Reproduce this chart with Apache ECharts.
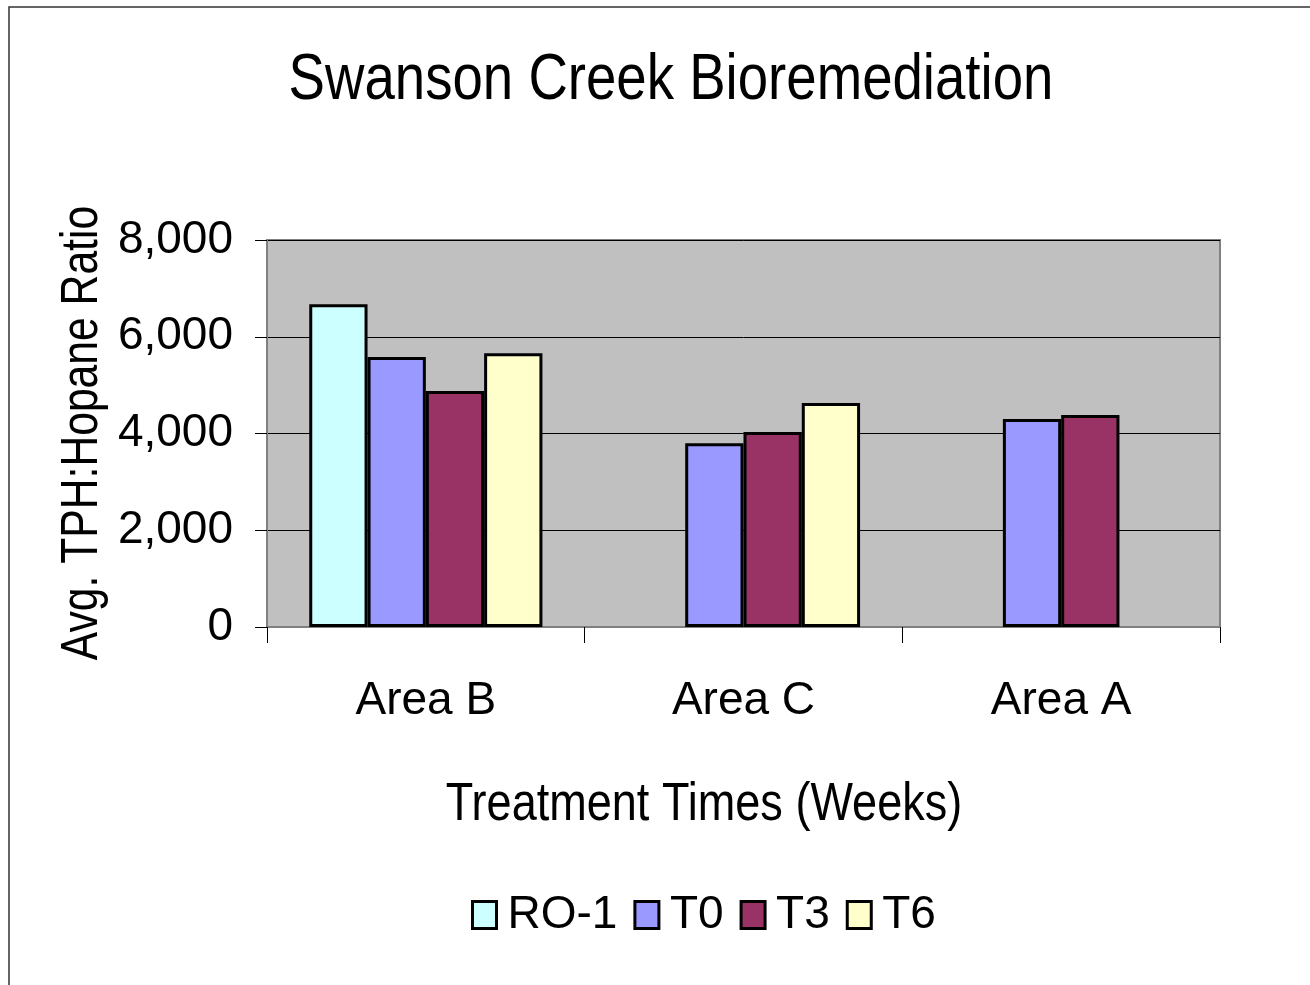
<!DOCTYPE html>
<html>
<head>
<meta charset="utf-8">
<title>Swanson Creek Bioremediation</title>
<script src="https://cdn.jsdelivr.net/npm/echarts@6/dist/echarts.min.js"></script>
<style>
  html, body { margin: 0; padding: 0; background: #fff; }
  #chart { width: 1310px; height: 985px; }
</style>
</head>
<body>
<div id="chart"></div>
<script>
// data
var areas = ['Area B', 'Area C', 'Area A'];
var seriesNames = ['RO-1', 'T0', 'T3', 'T6'];
var ro1 = [6670, null, null];
var t0 = [5580, 3800, 4300];
var t3 = [4880, 4030, 4380];
var t6 = [5660, 4630, null];
var yTicks = [0, 2000, 4000, 6000, 8000];

var colors = ['#CCFFFF', '#9999FF', '#993366', '#FFFFCC'];
var font = '"Liberation Sans", Arial, sans-serif';

var chart = echarts.init(document.getElementById('chart'));

var seriesData = [ro1, t0, t3, t6];
var series = seriesNames.map(function (name, i) {
  return {
    name: name,
    type: 'bar',
    data: seriesData[i],
    barGap: '0%',
    barCategoryGap: '26.6%',
    itemStyle: { color: colors[i], borderColor: '#000', borderWidth: 3 }
  };
});

// the original uses a narrow face, so the free texts get squeezed sideways
chart.setOption({
  animation: false,
  textStyle: { fontFamily: font, color: '#000' },
  graphic: [
    {
      type: 'rect', z: -1, silent: true,
      shape: { x: 9, y: 7, width: 1400, height: 1100 },
      style: { fill: 'none', stroke: '#333', lineWidth: 1.5 }
    },
    {
      type: 'text', x: 671, y: 81, scaleX: 0.84,
      style: {
        text: 'Swanson Creek Bioremediation', font: '65px ' + font,
        fill: '#000', textAlign: 'center', textVerticalAlign: 'middle'
      }
    },
    {
      type: 'text', x: 704, y: 805, scaleX: 0.85,
      style: {
        text: 'Treatment Times (Weeks)', font: '53px ' + font,
        fill: '#000', textAlign: 'center', textVerticalAlign: 'middle'
      }
    },
    {
      type: 'text', x: 83, y: 433, rotation: Math.PI / 2, scaleX: 0.82,
      style: {
        text: 'Avg. TPH:Hopane Ratio', font: '52px ' + font,
        fill: '#000', textAlign: 'center', textVerticalAlign: 'middle'
      }
    }
  ],
  legend: {
    data: seriesNames,
    left: 466,
    top: 887,
    icon: 'rect',
    itemWidth: 24,
    itemHeight: 27,
    itemGap: 16,
    itemStyle: { borderWidth: 3 },
    textStyle: { fontSize: 46, fontFamily: font, color: '#000', padding: [0, 0, 0, 6] }
  },
  grid: {
    left: 267, top: 240, width: 953, height: 387,
    show: true, backgroundColor: '#C0C0C0', borderColor: '#808080', borderWidth: 2
  },
  xAxis: {
    type: 'category',
    data: areas,
    axisLine: { lineStyle: { color: '#808080', width: 2 } },
    axisTick: { show: true, length: 16, lineStyle: { color: '#000', width: 1 } },
    axisLabel: { fontSize: 46, color: '#000', margin: 51 },
    splitLine: { show: false }
  },
  yAxis: {
    type: 'value',
    min: yTicks[0],
    max: yTicks[yTicks.length - 1],
    interval: 2000,
    axisLine: { show: true, lineStyle: { color: '#808080', width: 2 } },
    axisTick: { show: true, length: 12, lineStyle: { color: '#000', width: 1 } },
    axisLabel: {
      fontSize: 46, color: '#000', margin: 34,
      formatter: function (v) { return v.toLocaleString('en-US'); }
    },
    splitLine: { show: true, lineStyle: { color: '#000', width: 1 } }
  },
  series: series
});
</script>
</body>
</html>
